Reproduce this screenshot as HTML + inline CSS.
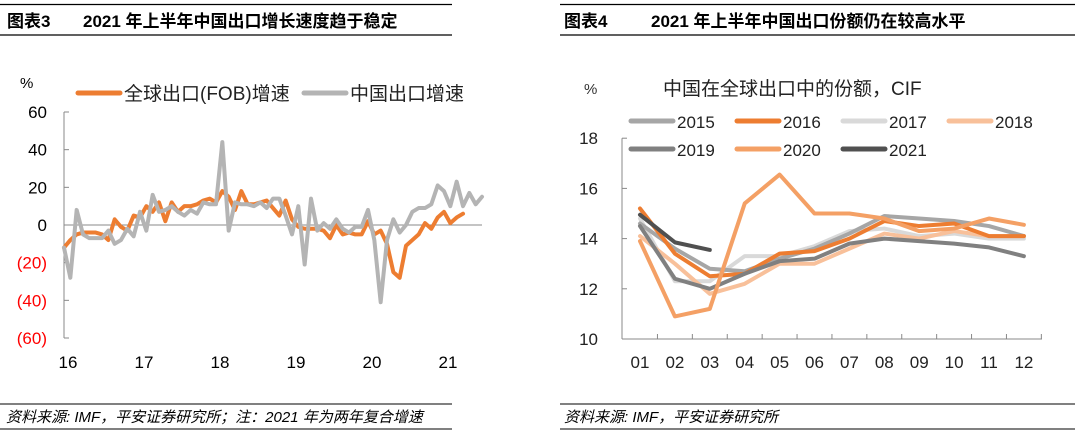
<!DOCTYPE html>
<html><head><meta charset="utf-8"><style>
body{margin:0;background:#fff;}
svg{display:block;font-family:"Liberation Sans","Noto Sans CJK SC",sans-serif;}
</style></head><body>
<svg width="1080" height="434" viewBox="0 0 1080 434">
<g>
<line x1="0" y1="4.5" x2="452" y2="4.5" stroke="#000" stroke-width="1.2"/>
<line x1="0" y1="35" x2="452" y2="35" stroke="#000" stroke-width="1.2"/>
<text x="7" y="27" font-size="17" font-weight="bold">图表3</text>
<text x="83" y="27" font-size="17" font-weight="bold">2021 年上半年中国出口增长速度趋于稳定</text>
</g>
<g>
<line x1="560" y1="4.5" x2="1075" y2="4.5" stroke="#000" stroke-width="1.2"/>
<line x1="560" y1="35" x2="1075" y2="35" stroke="#000" stroke-width="1.2"/>
<text x="564" y="27" font-size="17" font-weight="bold">图表4</text>
<text x="651" y="27" font-size="17" font-weight="bold">2021 年上半年中国出口份额仍在较高水平</text>
</g>
<g>
<line x1="0" y1="404" x2="452" y2="404" stroke="#000" stroke-width="1"/>
<line x1="0" y1="429" x2="452" y2="429" stroke="#000" stroke-width="1"/>
<text x="6" y="422" font-size="15" font-style="italic">资料来源: IMF，平安证券研究所；注：2021 年为两年复合增速</text>
</g>
<g>
<line x1="560" y1="404" x2="1075" y2="404" stroke="#000" stroke-width="1"/>
<line x1="560" y1="429" x2="1075" y2="429" stroke="#000" stroke-width="1"/>
<text x="564" y="422" font-size="15" font-style="italic">资料来源: IMF，平安证券研究所</text>
</g>
<g id="left"></g>
<g id="right"></g>
</svg>
<script>
const NS="http://www.w3.org/2000/svg";
// ---- left chart data ----
const leftYTicks=[60,40,20,0,-20,-40,-60];
const leftYLabels=["60","40","20","0","(20)","(40)","(60)"];
const leftYears=["16","17","18","19","20","21"];
const globalFOB=[-12,-8,-5,-4,-4,-4,-5,-8,3,-1,-3,5,
4,10,7,12,2,12,7,10,10,11,13,14,
12,18,15,8,18,11,11,12,13,9,5,13,
3,-1,-2,-2,-2,-3,-7,0,-5,-4,-5,-5,
2,-5,-3,-10,-25,-28,-11,-8,-5,1,-2,4,
7,1,4,6];
const chinaExport=[-12,-28,8,-5,-7,-7,-7,-3,-10,-8,-2,-6,
7,-3,16,7,8,10,7,5,8,6,12,11,
11,44,-3,12,11,11,10,12,9,14,14,5,
-5,10,-21,14,-3,1,-2,3,-2,-4,-1,-1,
8,-8,-41,-8,3,-4,0,7,9,9,11,21,
18,10,23,10,17,11,15];
// ---- right chart data ----
const rightMonths=["01","02","03","04","05","06","07","08","09","10","11","12"];
const rightYTicks=[10,12,14,16,18];
const s2015=[14.6,13.6,12.8,12.7,13.2,13.6,14.2,14.9,14.8,14.7,14.5,14.1];
const s2016=[15.2,13.4,12.5,12.6,13.4,13.5,14.0,14.7,14.5,14.6,14.1,14.1];
const s2017=[14.8,12.3,12.3,13.3,13.3,13.7,14.3,14.4,14.1,14.2,14.0,14.0];
const s2018=[14.1,13.0,11.8,12.2,13.0,13.0,13.6,14.2,14.0,14.3,14.1,14.1];
const s2019=[14.5,12.4,12.0,12.6,13.1,13.2,13.8,14.0,13.9,13.8,13.65,13.3];
const s2020=[13.9,10.9,11.2,15.4,16.55,15.0,15.0,14.8,14.3,14.4,14.8,14.55];
const s2021=[14.95,13.85,13.55];

function mk(tag,attrs,parent,text){const e=document.createElementNS(NS,tag);for(const k in attrs)e.setAttribute(k,attrs[k]);if(text!==undefined)e.textContent=text;parent.appendChild(e);return e;}

// left
const L=document.getElementById('left');
const lx=i=>64+i*76/12, ly=v=>225-v*(113/60);
mk('line',{x1:64,y1:ly(60),x2:64,y2:ly(-60),stroke:'#888','stroke-width':1},L);
mk('line',{x1:64,y1:225,x2:482,y2:225,stroke:'#888','stroke-width':1},L);
leftYTicks.forEach((t,i)=>{
 mk('line',{x1:64,y1:ly(t),x2:69,y2:ly(t),stroke:'#888'},L);
 const e=mk('text',{x:47,y:ly(t)+6,'text-anchor':'end','font-size':17,fill:t<0?'#ff0000':'#000'},L,leftYLabels[i]);
 
 
});
leftYears.forEach((y,i)=>{
 const e=mk('text',{x:lx(i*12)+4,y:368,'text-anchor':'middle','font-size':17},L,y);
 
 
});
const pct=mk('text',{x:20,y:88,'font-size':15},L,'%');


function poly(parent,arr,xf,yf,color,w,name){
 const p=mk('polyline',{points:arr.map((v,i)=>xf(i)+','+yf(v)).join(' '),fill:'none',stroke:color,'stroke-width':w,'stroke-linejoin':'round','stroke-linecap':'round'},parent);
 
 
}
poly(L,globalFOB,lx,ly,'#ed7d31',4,'global-fob-growth-line');
poly(L,chinaExport,lx,ly,'#b4b4b4',4,'china-export-growth-line');
function legend(parent,x,y,color,label,name,fs){
 const g=mk('g',{},parent);
 
 
 mk('line',{x1:x,y1:y,x2:x+42,y2:y,stroke:color,'stroke-width':5,'stroke-linecap':'round'},g);
 mk('text',{x:x+46,y:y+7,'font-size':fs,fill:'#222'},g,label);
}
legend(L,78,93,'#ed7d31','全球出口(FOB)增速','legend-global-fob',19);
legend(L,304,93,'#b4b4b4','中国出口增速','legend-china-export',19);

// right
const R=document.getElementById('right');
const rx=i=>640+i*34.9, ry=v=>339-(v-10)*25.1;
mk('line',{x1:622,y1:ry(18),x2:622,y2:339,stroke:'#888'},R);
mk('line',{x1:622,y1:339,x2:1042,y2:339,stroke:'#888'},R);
rightYTicks.forEach(t=>{
 mk('line',{x1:622,y1:ry(t),x2:627,y2:ry(t),stroke:'#888'},R);
 const e=mk('text',{x:598,y:ry(t)+6,'text-anchor':'end','font-size':17,fill:'#222'},R,String(t));
 
 
});
rightMonths.forEach((m,i)=>{
 mk('line',{x1:rx(i)+17.45,y1:339,x2:rx(i)+17.45,y2:334,stroke:'#888'},R);
 const e=mk('text',{x:rx(i),y:368,'text-anchor':'middle','font-size':17,fill:'#222'},R,m);
 
 
});
const rp=mk('text',{x:584,y:94,'font-size':15,fill:'#333'},R,'%');


const rt=mk('text',{x:663,y:95,'font-size':19,fill:'#222'},R,'中国在全球出口中的份额，CIF');


const series=[[s2015,'#a6a6a6','2015'],[s2016,'#ed7d31','2016'],[s2017,'#d9d9d9','2017'],[s2018,'#f8c09a','2018'],[s2019,'#808080','2019'],[s2020,'#f4a065','2020'],[s2021,'#505050','2021']];
const drawOrder=[2,3,0,1,4,5,6];
drawOrder.forEach(k=>{const s=series[k];poly(R,s[0],rx,ry,s[1],4,'line-'+s[2]);});
const lpos=[[631,121],[737,121],[843,121],[949,121],[631,149],[737,149],[843,149]];
series.forEach((s,i)=>legend(R,lpos[i][0],lpos[i][1],s[1],s[2],'legend-'+s[2],17));
</script>
</body></html>
